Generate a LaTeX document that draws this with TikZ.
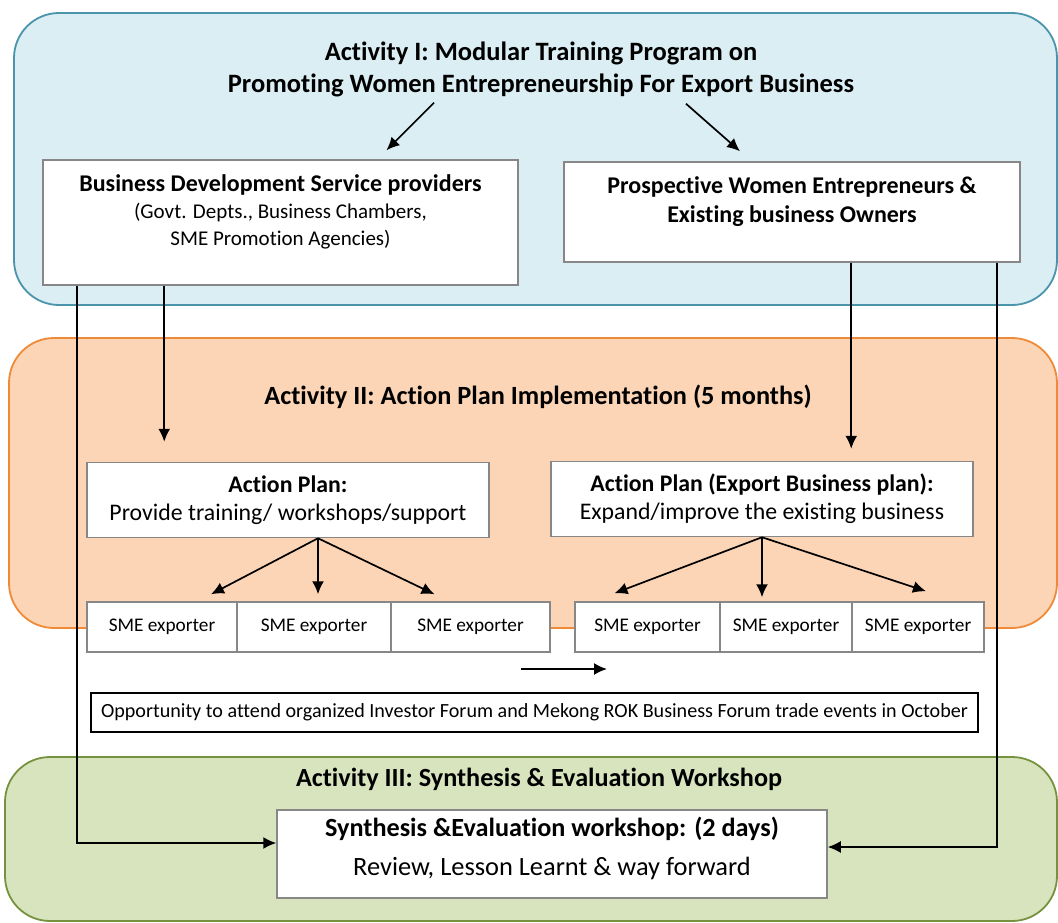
\documentclass[tikz,border=0pt]{standalone}
\usepackage{fontspec}
\setmainfont{Carlito}[Ligatures=NoCommon]
\usetikzlibrary{arrows.meta,positioning}
\definecolor{trainblue}{RGB}{219,238,244}
\definecolor{trainedge}{RGB}{74,148,172}
\definecolor{planorange}{RGB}{251,213,181}
\definecolor{planedge}{RGB}{238,138,56}
\definecolor{reviewgreen}{RGB}{216,228,190}
\definecolor{reviewedge}{RGB}{118,146,62}
\definecolor{boxgray}{RGB}{135,135,135}
\newcommand{\subfont}{\fontsize{21}{25}\selectfont}

\begin{document}
\begin{tikzpicture}[x=1pt,y=-1pt,
  panel/.style={rounded corners=45pt,line width=1.8pt},
  box/.style={draw=boxgray,fill=white,line width=1.5pt,inner sep=0pt,align=center},
  head/.style={font=\fontsize{24}{29}\selectfont\bfseries,align=center,inner sep=0pt},
  smebox/.style={box,minimum height=50,font=\fontsize{19.3}{21}\selectfont},
  arr/.style={-{Latex[length=13pt,width=12pt]},line width=1.7pt}
]
\useasboundingbox (0,0) rectangle (1058,923);
\clip (0,0) rectangle (1058,923);

% the three activity bands
\draw[panel,fill=trainblue,draw=trainedge] (14,13) rectangle (1057,305);
\draw[panel,fill=planorange,draw=planedge] (9,338) rectangle (1057,628);
\draw[panel,fill=reviewgreen,draw=reviewedge] (5,757) rectangle (1057,921);

% Activity I
\node[head,font=\fontsize{26.5}{32}\selectfont\bfseries] (act1) at (541,69)
  {Activity I: Modular Training Program on\\Promoting Women Entrepreneurship For Export Business};

\node[box,minimum width=475,minimum height=125] (bds) at (280.5,222.5) {};
\node[head,font=\fontsize{24}{27}\selectfont\bfseries,below=15pt of bds.north] (bdstxt)
  {Business Development Service providers\\{\subfont\mdseries (Govt. Depts., Business Chambers,}\\{\subfont\mdseries SME Promotion Agencies)}};

\node[box,minimum width=456,minimum height=100] (pwe) at (792,212) {};
\node[head,below=15pt of pwe.north] (pwetxt)
  {Prospective Women Entrepreneurs \&\\Existing business Owners};

% Activity II
\node[head,font=\fontsize{26.3}{28}\selectfont\bfseries] (act2) at (538,397)
  {Activity II: Action Plan Implementation (5 months)};

\node[box,minimum width=402,minimum height=75,font=\fontsize{23.8}{28}\selectfont] (ap1) at (288,500)
  {\textbf{Action Plan:}\\Provide training/ workshops/support};
\node[box,minimum width=422,minimum height=75,font=\fontsize{23.8}{28}\selectfont] (ap2) at (762,499)
  {\textbf{Action Plan (Export Business plan):}\\Expand/improve the existing business};

\node[smebox,minimum width=150] (s1) at (162,627) {SME exporter};
\node[smebox,minimum width=154] (s2) at (314,627) {SME exporter};
\node[smebox,minimum width=159] (s3) at (470.5,627) {SME exporter};
\node[smebox,minimum width=145] (s4) at (647.5,627) {SME exporter};
\node[smebox,minimum width=132] (s5) at (786,627) {SME exporter};
\node[smebox,minimum width=132] (s6) at (918,627) {SME exporter};

\coordinate (fwd) at (521,669);
\draw[arr] (fwd) -- ++(86,0);

\node[box,draw=black,line width=2.8pt,minimum width=887,minimum height=39,font=\fontsize{20.1}{22}\selectfont] (opp) at (534.5,712.5)
  {Opportunity to attend organized Investor Forum and Mekong ROK Business Forum trade events in October};

% Activity III
\node[head,font=\fontsize{26.2}{28}\selectfont\bfseries] (act3) at (539,779)
  {Activity III: Synthesis \& Evaluation Workshop};

\node[box,minimum width=550,minimum height=88] (syn) at (552,854) {};
\node[head,font=\fontsize{26.2}{28}\selectfont\bfseries,below=8pt of syn.north] (syntxt)
  {Synthesis \&Evaluation workshop: (2 days)\\[11pt]{\fontsize{26.4}{28}\selectfont\mdseries Review, Lesson Learnt \& way forward}};

% connectors
\draw[arr] ([xshift=-107pt,yshift=-6pt]act1.south) -- ([xshift=106pt,yshift=9pt]bds.north);
\draw[arr] ([xshift=145pt,yshift=-7pt]act1.south) -- ([xshift=-52pt,yshift=10pt]pwe.north);

\draw[arr] ([xshift=122pt]bds.south west) -- ([xshift=78pt,yshift=20pt]ap1.north west);
\draw[arr] ([xshift=288pt]pwe.south west) -- ([xshift=301pt,yshift=12pt]ap2.north west);

\draw[arr] ([xshift=30pt]ap1.south) -- ([xshift=49pt,yshift=7pt]s1.north);
\draw[arr] ([xshift=30pt]ap1.south) -- ([xshift=4pt,yshift=7pt]s2.north);
\draw[arr] ([xshift=30pt]ap1.south) -- ([xshift=-36pt,yshift=7pt]s3.north);

\draw[arr] (ap2.south) -- ([xshift=-33pt,yshift=8pt]s4.north);
\draw[arr] (ap2.south) -- ([xshift=-24pt,yshift=4pt]s5.north);
\draw[arr] (ap2.south) -- ([xshift=8pt,yshift=10pt]s6.north);

\draw[arr] ([xshift=35pt]bds.south west) |- ([yshift=11pt]syn.west);
\draw[arr] ([xshift=-24pt]pwe.south east) |- ([yshift=7pt]syn.east);
\end{tikzpicture}
\end{document}
